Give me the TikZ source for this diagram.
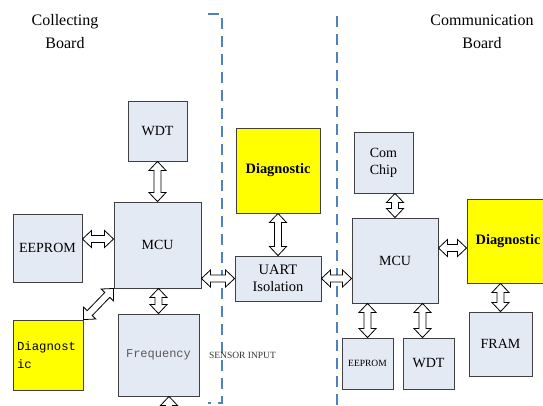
\documentclass[tikz,border=0pt]{standalone}
\usepackage{fontspec}
\setmainfont{Liberation Serif}
\setmonofont{Liberation Mono}
\usetikzlibrary{calc}
\definecolor{boxfill}{HTML}{E4EAF4}
\definecolor{boxline}{HTML}{404040}
\definecolor{diagyellow}{HTML}{FFFF00}
\definecolor{boundblue}{HTML}{4F81BD}
\definecolor{freqgray}{HTML}{5A5A5A}

\begin{document}
\begin{tikzpicture}[
  x=1pt,
  y=-1pt,
  line join=miter,
  block/.style={draw=boxline,fill=boxfill,line width=0.9pt,inner sep=0pt,
    align=center,font=\fontsize{14}{17}\selectfont},
  diagbox/.style={block,fill=diagyellow},
  boundary/.style={draw=boundblue,line width=1.6pt,dash pattern=on 11pt off 7pt},
  biarrow/.style={draw=black,fill=white,line width=0.8pt,
    to path={(\tikztostart)
      -- ($(\tikztostart)!9pt!(\tikztotarget)!8.5pt!90:(\tikztotarget)$)
      -- ($(\tikztostart)!9pt!(\tikztotarget)!3.5pt!90:(\tikztotarget)$)
      -- ($(\tikztotarget)!9pt!(\tikztostart)!3.5pt!-90:(\tikztostart)$)
      -- ($(\tikztotarget)!9pt!(\tikztostart)!8.5pt!-90:(\tikztostart)$)
      -- (\tikztotarget)
      -- ($(\tikztotarget)!9pt!(\tikztostart)!8.5pt!90:(\tikztostart)$)
      -- ($(\tikztotarget)!9pt!(\tikztostart)!3.5pt!90:(\tikztostart)$)
      -- ($(\tikztostart)!9pt!(\tikztotarget)!3.5pt!-90:(\tikztotarget)$)
      -- ($(\tikztostart)!9pt!(\tikztotarget)!8.5pt!-90:(\tikztotarget)$)
      -- cycle}}
]
  % Frame of the original figure, boxes at the right edge are cut off.
  \useasboundingbox (0,0) rectangle (543,405);
  \clip (0,0) rectangle (543,405);

  % Board boundaries.
  \draw[boundary] (208,14) -- (222,14) -- (222,403) -- (208,403);
  \draw[boundary] (337,16) -- (337,405);

  % Headings.
  \node[align=center,font=\fontsize{16}{23}\selectfont] (collectHdr) at (65,32) {Collecting\\Board};
  \node[align=center,font=\fontsize{16}{23}\selectfont] (commHdr) at (482,32) {Communication\\Board};

  % Collecting board.
  \node[block,minimum width=59pt,minimum height=60pt] (wdtL) at (157.5,131) {WDT};
  \node[block,minimum width=87pt,minimum height=86pt] (mcuL) at (157.5,245) {MCU};
  \node[block,minimum width=69pt,minimum height=68pt] (eepL) at (47.5,248) {EEPROM};
  \node[diagbox,minimum width=70pt,minimum height=70pt,text width=62pt,align=left,
    font=\ttfamily\fontsize{12.3}{18}\selectfont] (diagL) at (48,355) {Diagnost\\ic};
  \node[block,minimum width=81pt,minimum height=82pt,text=freqgray,
    font=\ttfamily\fontsize{12}{14}\selectfont] (freq) at (158.5,355) {Frequency};
  \node[text=black!80,font=\fontsize{9.5}{11}\selectfont] (sensor) at (242.5,355) {SENSOR INPUT};
  \coordinate (freqIn) at (169,440);

  % Isolation between the boards.
  \node[diagbox,minimum width=84pt,minimum height=85pt,font=\bfseries\fontsize{14.4}{17}\selectfont]
    (diagM) at (278,170.5) {Diagnostic};
  \node[block,minimum width=86pt,minimum height=45pt,font=\fontsize{14.5}{17}\selectfont]
    (uart) at (278,278.5) {UART\\Isolation};

  % Communication board.
  \node[block,minimum width=59pt,minimum height=61pt] (com) at (383.5,162.5) {Com\\Chip};
  \node[block,minimum width=86pt,minimum height=85pt] (mcuR) at (395,260.5) {MCU};
  \node[diagbox,minimum width=82pt,minimum height=84pt,font=\bfseries\fontsize{14.4}{17}\selectfont]
    (diagR) at (508,241) {Diagnostic};
  \node[block,minimum width=63pt,minimum height=64pt] (fram) at (500.5,344) {FRAM};
  \node[block,minimum width=51pt,minimum height=51pt,font=\fontsize{9.5}{11}\selectfont]
    (eepR) at (367.5,363.5) {EEPROM};
  \node[block,minimum width=51pt,minimum height=51pt] (wdtR) at (428.5,363.5) {WDT};

  % Hollow double arrows.
  \draw[biarrow] (mcuL.north) to (wdtL.south);
  \draw[biarrow] ([yshift=9pt]eepL.east) to ([yshift=9pt]eepL.east -| mcuL.west);
  \draw[biarrow] (diagL.north east) to (mcuL.south west);
  \draw[biarrow] (freq.north |- mcuL.south) to (freq.north);
  \draw[biarrow] ([xshift=10.5pt]freq.south) to (freqIn);
  \draw[biarrow] (mcuL.east |- uart.west) to (uart.west);
  \draw[biarrow] (diagM.south) to (uart.north);
  \draw[biarrow] (uart.east) to (uart.east -| mcuR.west);
  \draw[biarrow] (mcuR.north) to (mcuR.north |- com.south);
  \draw[biarrow] ([yshift=-7pt]diagR.west -| mcuR.east) to ([yshift=-7pt]diagR.west);
  \draw[biarrow] (fram.north |- diagR.south) to (fram.north);
  \draw[biarrow] (eepR.north |- mcuR.south) to (eepR.north);
  \draw[biarrow] ([xshift=-6pt]wdtR.north |- mcuR.south) to ([xshift=-6pt]wdtR.north);
\end{tikzpicture}
\end{document}
